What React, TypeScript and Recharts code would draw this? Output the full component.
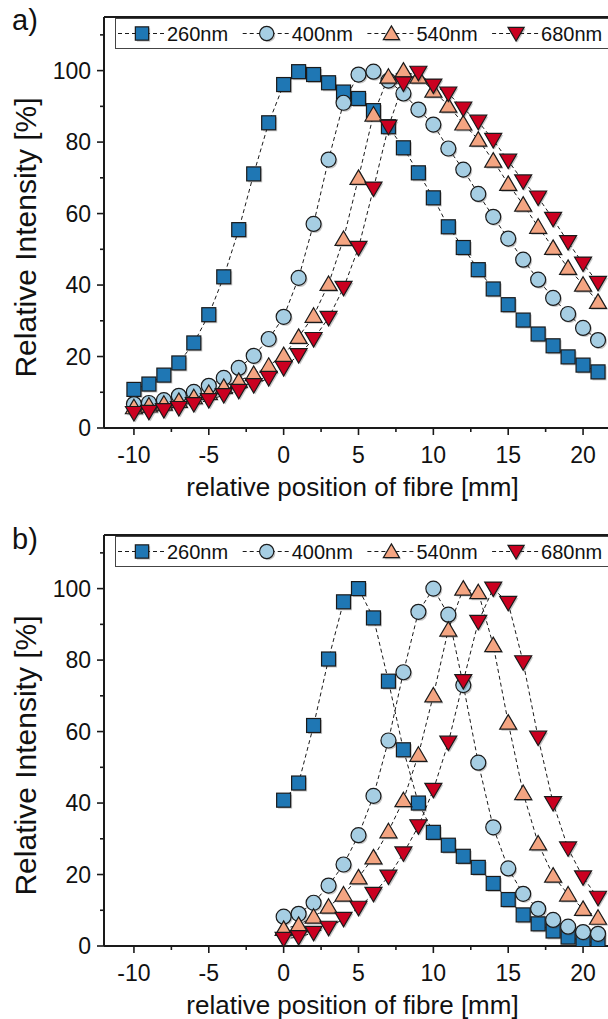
import React from 'react';
import { LineChart, Line, XAxis, YAxis, ReferenceLine, Legend } from 'recharts';

// panel a) positions and relative intensities
const posA = [-10, -9, -8, -7, -6, -5, -4, -3, -2, -1, 0, 1, 2, 3, 4, 5, 6, 7, 8, 9, 10, 11, 12, 13, 14, 15, 16, 17, 18, 19, 20, 21];
const a260 = [10.8, 12.3, 14.8, 18.2, 23.8, 31.7, 42.3, 55.5, 71.1, 85.4, 96.1, 99.7, 98.9, 96.6, 94.0, 92.2, 88.8, 84.3, 78.4, 71.4, 64.4, 56.3, 50.5, 44.3, 38.9, 34.5, 30.2, 26.3, 23.0, 19.9, 17.6, 15.7];
const a400 = [6.7, 7.0, 7.8, 9.0, 10.1, 11.8, 14.0, 16.8, 20.2, 24.9, 31.1, 42.0, 57.1, 75.1, 91.0, 98.9, 99.7, 97.2, 93.6, 89.1, 84.9, 78.2, 72.3, 65.5, 59.1, 53.0, 47.1, 41.5, 36.4, 31.9, 28.0, 24.6];
const a540 = [5.8, 6.3, 6.8, 7.6, 8.6, 9.8, 11.5, 13.2, 15.1, 17.4, 20.4, 25.5, 31.4, 40.3, 52.9, 70.0, 87.7, 98.3, 100, 98.3, 94.4, 90.2, 85.2, 80.7, 74.8, 68.3, 62.5, 56.3, 50.4, 44.8, 40.1, 35.3];
const a680 = [4.2, 4.5, 5.0, 5.6, 6.7, 7.8, 9.2, 10.4, 12.0, 14.0, 16.8, 20.4, 24.9, 30.8, 39.2, 50.4, 67.0, 84.3, 96.4, 99.4, 95.8, 93.6, 89.4, 85.7, 80.6, 74.8, 69.0, 64.5, 58.5, 52.0, 46.0, 40.6];

// panel b)
const posB = [0, 1, 2, 3, 4, 5, 6, 7, 8, 9, 10, 11, 12, 13, 14, 15, 16, 17, 18, 19, 20, 21];
const b260 = [40.8, 45.6, 61.7, 80.3, 96.3, 100, 91.8, 74.1, 54.9, 40.0, 31.8, 28.2, 25.1, 22.0, 17.5, 13.0, 8.7, 6.2, 4.2, 2.5, 1.4, 0.8];
const b400 = [8.2, 9.0, 12.1, 16.9, 22.8, 31.0, 42.0, 57.5, 76.6, 93.5, 100, 92.7, 73.0, 51.3, 33.2, 21.7, 14.6, 10.4, 7.3, 5.4, 3.9, 3.4];
const b540 = [4.8, 5.9, 8.2, 11.0, 14.4, 19.2, 24.8, 32.1, 40.8, 53.5, 70.1, 88.5, 100, 99.0, 84.2, 62.5, 42.8, 28.7, 19.7, 14.4, 10.4, 7.9];
const b680 = [2.0, 2.5, 3.7, 5.1, 7.6, 10.7, 14.6, 19.4, 25.9, 33.5, 43.7, 56.9, 74.1, 90.7, 100, 96.0, 79.4, 58.3, 40.0, 27.3, 19.2, 13.5];

const xTicks = [-10, -7.5, -5, -2.5, 0, 2.5, 5, 7.5, 10, 12.5, 15, 17.5, 20];
const yTicks = [0, 10, 20, 30, 40, 50, 60, 70, 80, 90, 100, 110];

const FONT = '"Liberation Sans", Arial, sans-serif';
const INK = '#1a1a1a';

type Shape = 'square' | 'circle' | 'up' | 'down';

const series: { key: string; label: string; shape: Shape; fill: string }[] = [
  { key: 's260', label: '260nm', shape: 'square', fill: '#1f77b4' },
  { key: 's400', label: '400nm', shape: 'circle', fill: '#a6cee3' },
  { key: 's540', label: '540nm', shape: 'up', fill: '#f4a582' },
  { key: 's680', label: '680nm', shape: 'down', fill: '#ca0020' },
];

const toRows = (pos: number[], cols: number[][]) =>
  pos.map((x, i) => ({ x, s260: cols[0][i], s400: cols[1][i], s540: cols[2][i], s680: cols[3][i] }));

const dataA = toRows(posA, [a260, a400, a540, a680]);
const dataB = toRows(posB, [b260, b400, b540, b680]);

function ShapeEl({ shape, cx, cy, fill, stroke, k = 1 }: { shape: Shape; cx: number; cy: number; fill: string; stroke?: string; k?: number }) {
  const common = { fill, stroke: stroke || 'none', strokeWidth: 1.2 };
  if (shape === 'square') return <rect x={cx - 7 * k} y={cy - 7 * k} width={14 * k} height={14 * k} {...common} />;
  if (shape === 'circle') return <circle cx={cx} cy={cy} r={7.5 * k} {...common} />;
  if (shape === 'up')
    return <polygon points={`${cx},${cy - 8 * k} ${cx + 8.5 * k},${cy + 6.5 * k} ${cx - 8.5 * k},${cy + 6.5 * k}`} {...common} />;
  return <polygon points={`${cx - 8.5 * k},${cy - 6.5 * k} ${cx + 8.5 * k},${cy - 6.5 * k} ${cx},${cy + 8 * k}`} {...common} />;
}

function Marker({ shape, cx, cy, fill, k = 1 }: { shape: Shape; cx: number; cy: number; fill: string; k?: number }) {
  return (
    <g>
      <g opacity={0.3}>
        <ShapeEl shape={shape} cx={cx + 1.5} cy={cy + 1.5} fill="#444" k={k} />
      </g>
      <ShapeEl shape={shape} cx={cx} cy={cy} fill={fill} stroke={INK} k={k} />
    </g>
  );
}

const XTick = (props: any) => {
  const { x, y, payload } = props;
  const v = payload.value;
  const major = v % 5 === 0;
  return (
    <g>
      <line x1={x} x2={x} y1={y} y2={y + (major ? 7 : 4)} stroke={INK} strokeWidth={1.6} />
      {major && (
        <text x={x} y={y + 35} textAnchor="middle" fontSize={23} fontFamily={FONT} fill="#111">
          {v}
        </text>
      )}
    </g>
  );
};

const YTick = (props: any) => {
  const { x, y, payload } = props;
  const v = payload.value;
  const major = v % 20 === 0;
  return (
    <g>
      <line x1={x} x2={x - (major ? 7 : 4)} y1={y} y2={y} stroke={INK} strokeWidth={1.6} />
      {major && (
        <text x={x - 13} y={y + 8} textAnchor="end" fontSize={23} fontFamily={FONT} fill="#111">
          {v}
        </text>
      )}
    </g>
  );
};

const YTitle = (props: any) => {
  const vb = props.viewBox || { y: 17, height: 411 };
  const cy = vb.y + vb.height / 2 + 15;
  return (
    <text transform={`translate(36, ${cy}) rotate(-90)`} textAnchor="middle" fontSize={30} fontFamily={FONT} fill="#111">
      Relative Intensity [%]
    </text>
  );
};

const XTitle = (props: any) => {
  const vb = props.viewBox || { x: 104, width: 509, y: 428, height: 90 };
  return (
    <text x={vb.x + vb.width / 2 - 6} y={vb.y + 68} textAnchor="middle" fontSize={26} fontFamily={FONT} fill="#111">
      relative position of fibre [mm]
    </text>
  );
};

const renderLegend = () => (
  <svg width={500} height={32} style={{ display: 'block' }}>
    <rect x={0.5} y={0.5} width={520} height={30} fill="#fff" stroke="#444" strokeWidth={1} />
    {series.map((s, i) => {
      const cx = 27 + i * 124.7;
      return (
        <g key={s.key}>
          <line x1={cx - 24} x2={cx + 24} y1={15.5} y2={15.5} stroke={INK} strokeDasharray="4 3" />
          <Marker shape={s.shape} cx={cx} cy={15.5} fill={s.fill} k={0.95} />
          <text x={cx + 25} y={22.5} fontSize={20} fontFamily={FONT} fill="#111">
            {s.label}
          </text>
        </g>
      );
    })}
  </svg>
);

function Panel({ data }: { data: any[] }) {
  return (
    <LineChart width={640} height={518} data={data} margin={{ top: 17, right: 27, bottom: 0, left: 0 }}>
      <XAxis
        dataKey="x"
        type="number"
        domain={[-12, 22]}
        allowDataOverflow
        ticks={xTicks}
        interval={0}
        tick={<XTick />}
        tickLine={false}
        tickSize={0}
        tickMargin={0}
        height={90}
        axisLine={{ stroke: INK, strokeWidth: 2 }}
        label={<XTitle />}
      />
      <YAxis
        type="number"
        domain={[0, 115]}
        allowDataOverflow
        ticks={yTicks}
        interval={0}
        tick={<YTick />}
        tickLine={false}
        tickSize={0}
        tickMargin={0}
        width={104}
        axisLine={{ stroke: INK, strokeWidth: 2 }}
        label={<YTitle />}
      />
      <ReferenceLine y={115} stroke={INK} strokeWidth={2} />
      <ReferenceLine x={22} stroke={INK} strokeWidth={2} />
      <Legend
        content={renderLegend}
        layout="horizontal"
        verticalAlign="middle"
        align="center"
        wrapperStyle={{ position: 'absolute', top: 18, left: 115, width: 500, height: 32 }}
      />
      {series.map((s) => (
        <Line
          key={s.key}
          type="linear"
          dataKey={s.key}
          stroke={INK}
          strokeWidth={1}
          strokeDasharray="4 3"
          dot={(p: any) => <Marker key={`${s.key}-${p.index}`} shape={s.shape} cx={p.cx} cy={p.cy} fill={s.fill} />}
          activeDot={false}
          isAnimationActive={false}
        />
      ))}
    </LineChart>
  );
}

const tag: React.CSSProperties = {
  position: 'absolute',
  left: 12,
  fontFamily: FONT,
  fontSize: 29,
  lineHeight: '30px',
  color: '#111',
};

export default function App() {
  return (
    <div style={{ position: 'absolute', left: 0, top: 0, width: 608, height: 1019, overflow: 'hidden', background: '#fff' }}>
      <div style={{ position: 'absolute', left: 0, top: 0 }}>
        <Panel data={dataA} />
      </div>
      <div style={{ position: 'absolute', left: 0, top: 518 }}>
        <Panel data={dataB} />
      </div>
      <div style={{ ...tag, top: 5 }}>a)</div>
      <div style={{ ...tag, top: 524 }}>b)</div>
    </div>
  );
}
